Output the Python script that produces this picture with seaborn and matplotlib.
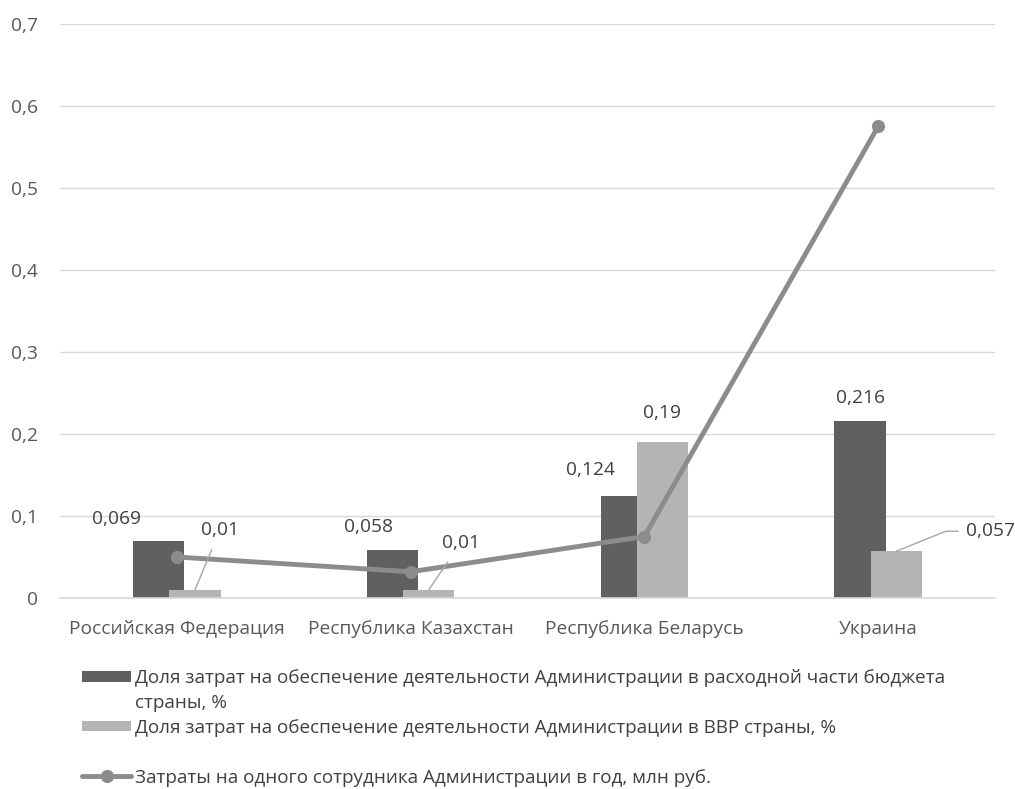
import matplotlib
matplotlib.use("Agg")
import matplotlib.pyplot as plt
from matplotlib.lines import Line2D
from matplotlib.patches import Patch
import seaborn as sns
import pandas as pd

countries = ["Российская Федерация", "Республика Казахстан", "Республика Беларусь", "Украина"]
budget_share = [0.069, 0.058, 0.124, 0.216]
gdp_share = [0.01, 0.01, 0.19, 0.057]
cost_per_employee = [0.05, 0.032, 0.075, 0.575]
budget_labels = ["0,069", "0,058", "0,124", "0,216"]
gdp_labels = ["0,01", "0,01", "0,19", "0,057"]
y_ticks = [0, 0.1, 0.2, 0.3, 0.4, 0.5, 0.6, 0.7]
y_tick_labels = ["0", "0,1", "0,2", "0,3", "0,4", "0,5", "0,6", "0,7"]

series_budget = "Доля затрат на обеспечение деятельности Администрации в расходной части бюджета"
series_budget_cont = "страны, %"
series_gdp = "Доля затрат на обеспечение деятельности Администрации в ВВР страны, %"
series_cost = "Затраты на одного сотрудника Администрации в год, млн руб."

DARK = "#606060"
LIGHT = "#b4b4b4"
LINE = "#8c8c8c"
TEXT = "#404040"
TICK = "#595959"
FS = 13.8

sns.set_theme(style="white")
plt.rcParams["font.family"] = ["Open Sans", "DejaVu Sans"]

bars = pd.DataFrame({
    "country": countries * 2,
    "value": budget_share + gdp_share,
    "series": ["budget"] * 4 + ["gdp"] * 4,
})
line = pd.DataFrame({"country": countries, "value": cost_per_employee})

fig = plt.figure(figsize=(10.15, 7.89), dpi=100)
W, H = 1015, 789
ax = fig.add_axes([60 / W, 1 - 598 / H, 935 / W, 574 / H])

sns.barplot(data=bars, x="country", y="value", hue="series",
            palette=[DARK, LIGHT], width=0.31, gap=-0.41,
            saturation=1, legend=False, ax=ax, zorder=2,
            edgecolor="none", linewidth=0)
sns.lineplot(data=line, x="country", y="value", color=LINE, linewidth=3.5,
             marker="o", markersize=9.5, markeredgewidth=0, ax=ax, zorder=4)

ax.set_ylim(0, 0.7)
ax.set_xlim(-0.5, 3.5)
ax.set_yticks(y_ticks)
ax.set_yticklabels(y_tick_labels)
ax.grid(axis="y", color="#d9d9d9", linewidth=1)
ax.set_axisbelow(True)
for side in ["left", "right", "top"]:
    ax.spines[side].set_visible(False)
ax.spines["bottom"].set_color("#d9d9d9")
ax.tick_params(axis="both", length=0, labelsize=FS, labelcolor=TICK)
ax.tick_params(axis="y", pad=16)
ax.tick_params(axis="x", pad=16)
ax.set_xlabel("")
ax.set_ylabel("")

# bar value labels: offsets in pixels from the top centre of each bar
dark_patches = sorted([p for p in ax.patches if p.get_facecolor()[0] < 0.5], key=lambda p: p.get_x())
light_patches = sorted([p for p in ax.patches if p.get_facecolor()[0] >= 0.5], key=lambda p: p.get_x())

dark_offsets = [(-42, 22), (-24, 23), (-36, 26), (0, 23)]
for p, lab, off in zip(dark_patches, budget_labels, dark_offsets):
    ax.annotate(lab, (p.get_x() + p.get_width() / 2, p.get_height()),
                xytext=off, textcoords="offset pixels", ha="center", va="center",
                fontsize=FS, color=TEXT, zorder=5)

light_offsets = [(25, 60), (32, 47), (0, 29), (94, 20)]
light_leader = [True, True, False, True]
for i, (p, lab, off, lead) in enumerate(zip(light_patches, gdp_labels, light_offsets, light_leader)):
    kw = {}
    if lead:
        style = "arc3" if i < 3 else "angle,angleA=0,angleB=22,rad=0"
        kw["arrowprops"] = dict(arrowstyle="-", color="#a6a6a6", lw=1,
                                shrinkA=3 if i == 3 else 6, shrinkB=0,
                                connectionstyle=style)
    ax.annotate(lab, (p.get_x() + p.get_width() / 2, p.get_height()),
                xytext=off, textcoords="offset pixels", ha="center", va="center",
                fontsize=FS, color=TEXT, zorder=5, **kw)

# legend
blank = Patch(facecolor="none", edgecolor="none")
bar_handles = [Patch(facecolor=DARK, edgecolor="none"), blank,
               Patch(facecolor=LIGHT, edgecolor="none")]
fig.legend(bar_handles, [series_budget, series_budget_cont, series_gdp], loc="upper left",
           bbox_to_anchor=(82 / W, 1 - 669 / H), frameon=False, fontsize=13.6,
           labelcolor=TEXT, handlelength=2.6, handleheight=0.5,
           handletextpad=0.2, labelspacing=0.36, borderaxespad=0, borderpad=0)
line_handle = [Line2D([0], [0], color=LINE, lw=3.5, marker="o", markersize=9.5, markeredgewidth=0)]
fig.legend(line_handle, [series_cost], loc="upper left",
           bbox_to_anchor=(82 / W, 1 - 769 / H), frameon=False, fontsize=13.6,
           labelcolor=TEXT, handlelength=2.6, handletextpad=0.2, borderaxespad=0, borderpad=0)

fig.savefig("out.png", dpi=100)
